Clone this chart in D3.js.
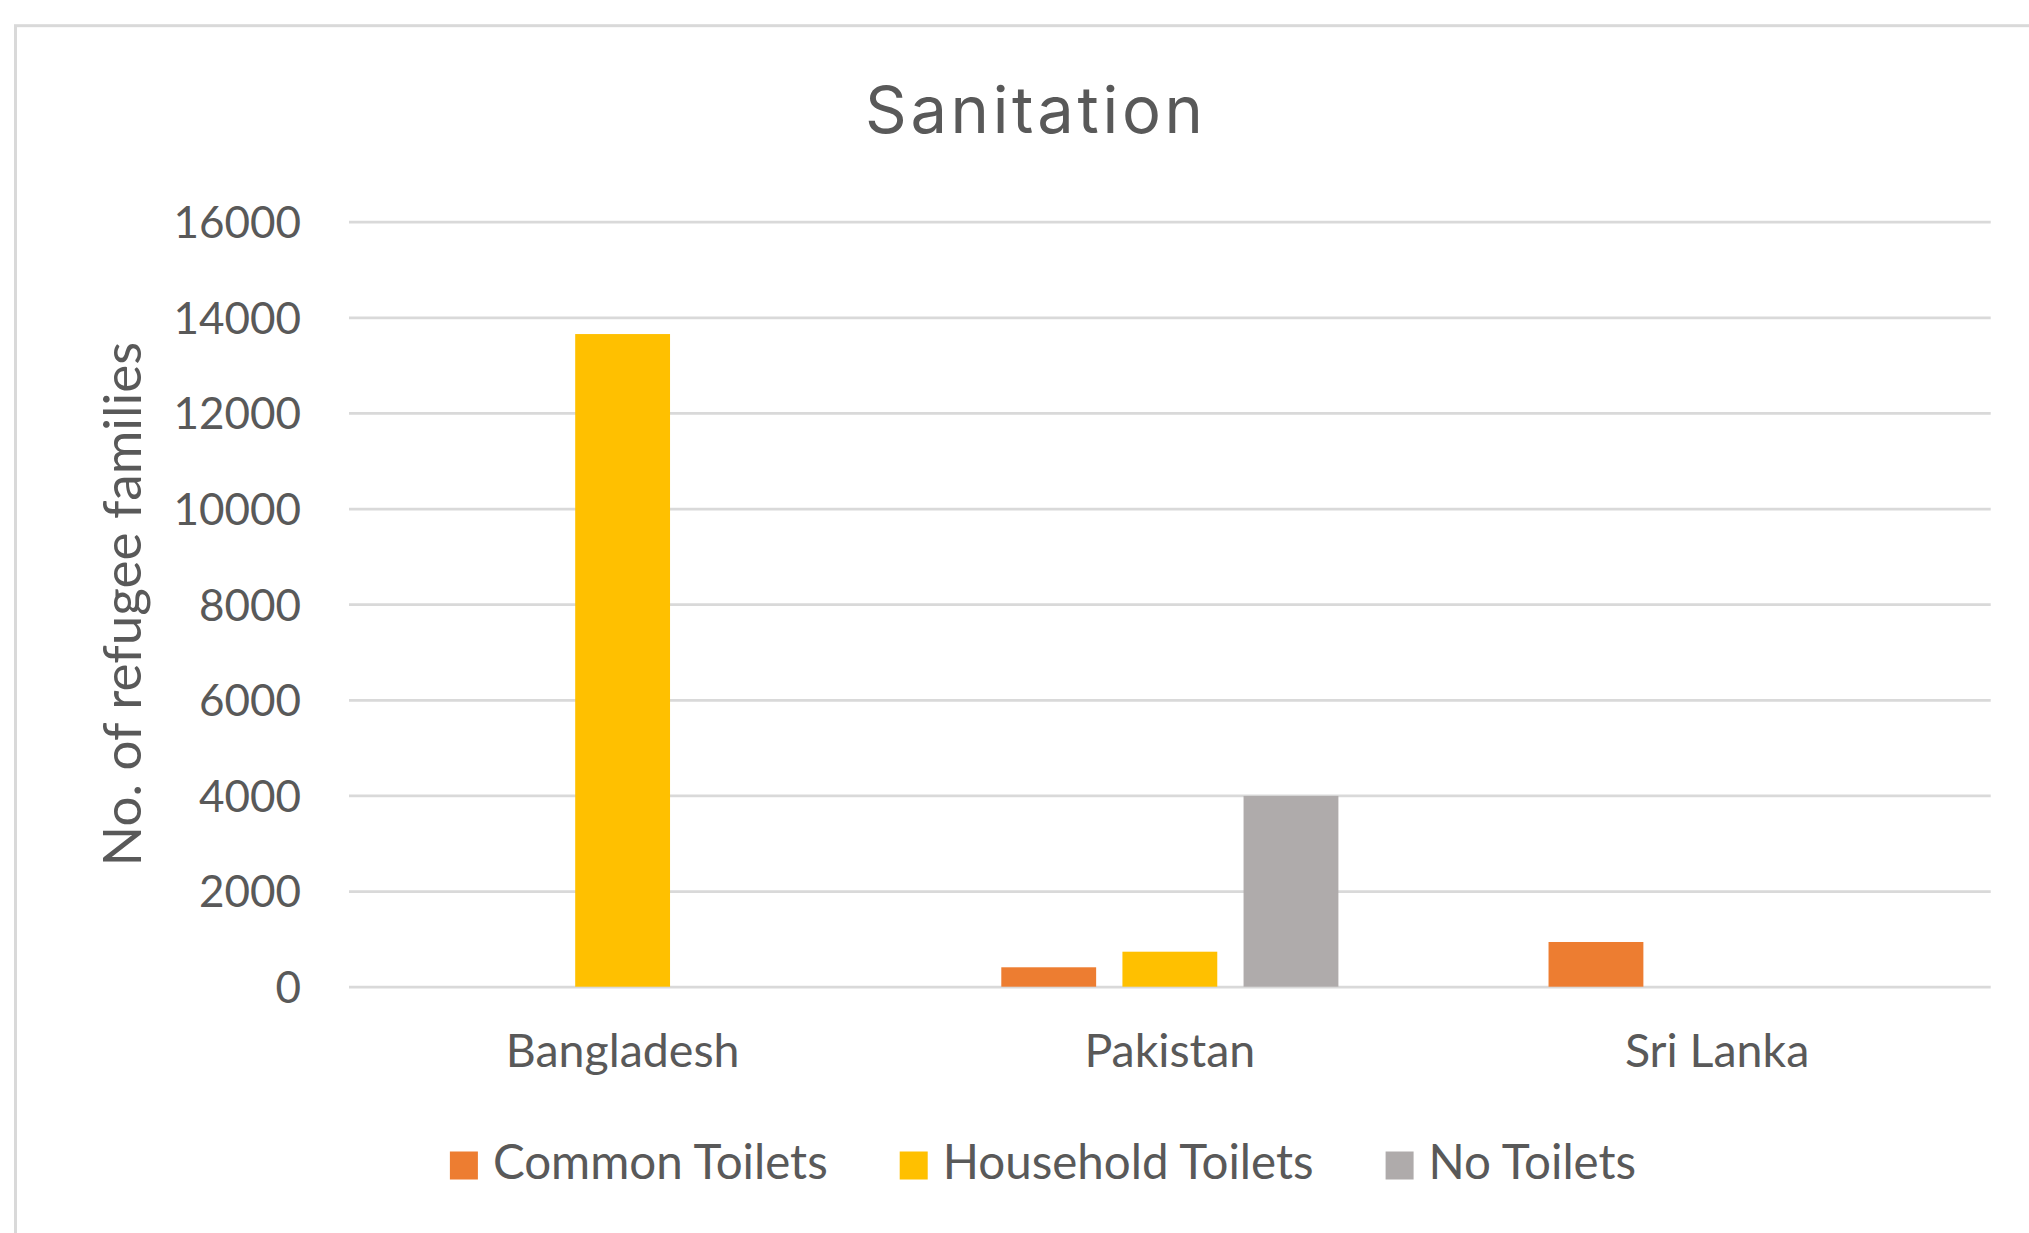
<!DOCTYPE html>
<html>
<head>
<meta charset="utf-8">
<title>Sanitation</title>
<script src="https://cdn.jsdelivr.net/npm/d3@7"></script>
<style>
  html, body { margin: 0; padding: 0; background: #ffffff; }
  svg { display: block; }
  text { fill: #595959; font-family: Lato, "Open Sans", sans-serif; }
</style>
</head>
<body>
<svg id="chart" width="2029" height="1233"></svg>
<script>
// Countries along the x axis
const categories = ["Bangladesh", "Pakistan", "Sri Lanka"];

// Number of refugee families per sanitation type, one value per country
const seriesNames = ["Common Toilets", "Household Toilets", "No Toilets"];
const commonToilets = [0, 406, 935];
const householdToilets = [13650, 732, 0];
const noToilets = [0, 3990, 0];

// Y axis ticks
const yTicks = [0, 2000, 4000, 6000, 8000, 10000, 12000, 14000, 16000];

const colors = ["#ED7D31", "#FFC000", "#AFABAB"];
const seriesValues = [commonToilets, householdToilets, noToilets];

const svg = d3.select("#chart");
const W = 2029, H = 1233;

// Plot area
const plotLeft = 349, plotRight = 1990.7, plotTop = 221.7, plotBottom = 986.7;

// Outer chart frame (continues past the right and bottom edges)
svg.append("rect")
  .attr("x", 15.5).attr("y", 25.7)
  .attr("width", W + 40).attr("height", H + 40)
  .attr("fill", "#ffffff")
  .attr("stroke", "#D9D9D9")
  .attr("stroke-width", 3);

// Title
svg.append("text")
  .attr("x", 1034).attr("y", 133.3)
  .attr("text-anchor", "middle")
  .style("font-family", "Inter, Lato, sans-serif")
  .style("font-weight", 400)
  .style("font-size", "65px")
  .attr("textLength", 338)
  .attr("lengthAdjust", "spacing")
  .text("Sanitation");

const y = d3.scaleLinear().domain([0, 16000]).range([plotBottom, plotTop]);
const x0 = d3.scaleBand().domain(categories).range([plotLeft, plotRight]).padding(0);
const bw = x0.bandwidth();
const outer = 0.192;
const x1 = d3.scaleBand().domain(seriesNames)
  .range([bw * outer, bw * (1 - outer)])
  .paddingInner(0.217).paddingOuter(0);

// Gridlines and y tick labels
const yAxis = svg.append("g")
  .attr("transform", `translate(${plotLeft},0)`)
  .call(d3.axisLeft(y).tickValues(yTicks).tickFormat(d3.format("d"))
    .tickSize(-(plotRight - plotLeft)).tickPadding(48));
yAxis.select(".domain").remove();
yAxis.selectAll(".tick line")
  .attr("stroke", "#D9D9D9").attr("stroke-width", 2.7);
yAxis.selectAll(".tick text")
  .attr("fill", "#595959")
  .attr("dy", "0.36em")
  .style("font-family", "Lato, sans-serif")
  .style("font-size", "44px");

// Bars
const rows = categories.map((c, i) => ({
  category: c,
  values: seriesNames.map((s, j) => ({ series: s, value: seriesValues[j][i], color: colors[j] }))
}));

const groups = svg.append("g").selectAll("g")
  .data(rows).join("g")
  .attr("transform", d => `translate(${x0(d.category)},0)`);

groups.selectAll("rect")
  .data(d => d.values.filter(v => v.value > 0))
  .join("rect")
  .attr("x", d => x1(d.series))
  .attr("width", x1.bandwidth())
  .attr("y", d => y(d.value))
  .attr("height", d => y(0) - y(d.value))
  .attr("fill", d => d.color);

// Category labels
const xAxis = svg.append("g")
  .attr("transform", `translate(0,1066.7)`)
  .call(d3.axisBottom(x0).tickSize(0));
xAxis.select(".domain").remove();
xAxis.selectAll(".tick text")
  .attr("y", 0).attr("dy", 0)
  .attr("fill", "#595959")
  .style("font-family", "Lato, sans-serif")
  .style("font-size", "46.5px");

// Y axis title
svg.append("text")
  .attr("transform", "translate(141,604) rotate(-90)")
  .attr("text-anchor", "middle")
  .style("font-size", "53px")
  .text("No. of refugee families");

// Legend, centred under the chart
const legend = svg.append("g");
const sw = 28, swGap = 15, itemGap = 72;
const items = legend.selectAll("g").data(seriesNames).join("g");
items.append("rect")
  .attr("width", sw).attr("height", sw)
  .attr("y", 1151.5)
  .attr("fill", (d, i) => colors[i]);
items.append("text")
  .attr("x", sw + swGap).attr("y", 1179.3)
  .style("font-size", "47.5px")
  .text(d => d);

let widths = [];
items.each(function () {
  widths.push(sw + swGap + d3.select(this).select("text").node().getComputedTextLength());
});
const total = d3.sum(widths) + itemGap * (widths.length - 1);
let cx = 1043 - total / 2;
items.attr("transform", (d, i) => {
  const t = `translate(${cx},0)`;
  cx += widths[i] + itemGap;
  return t;
});
</script>
</body>
</html>
